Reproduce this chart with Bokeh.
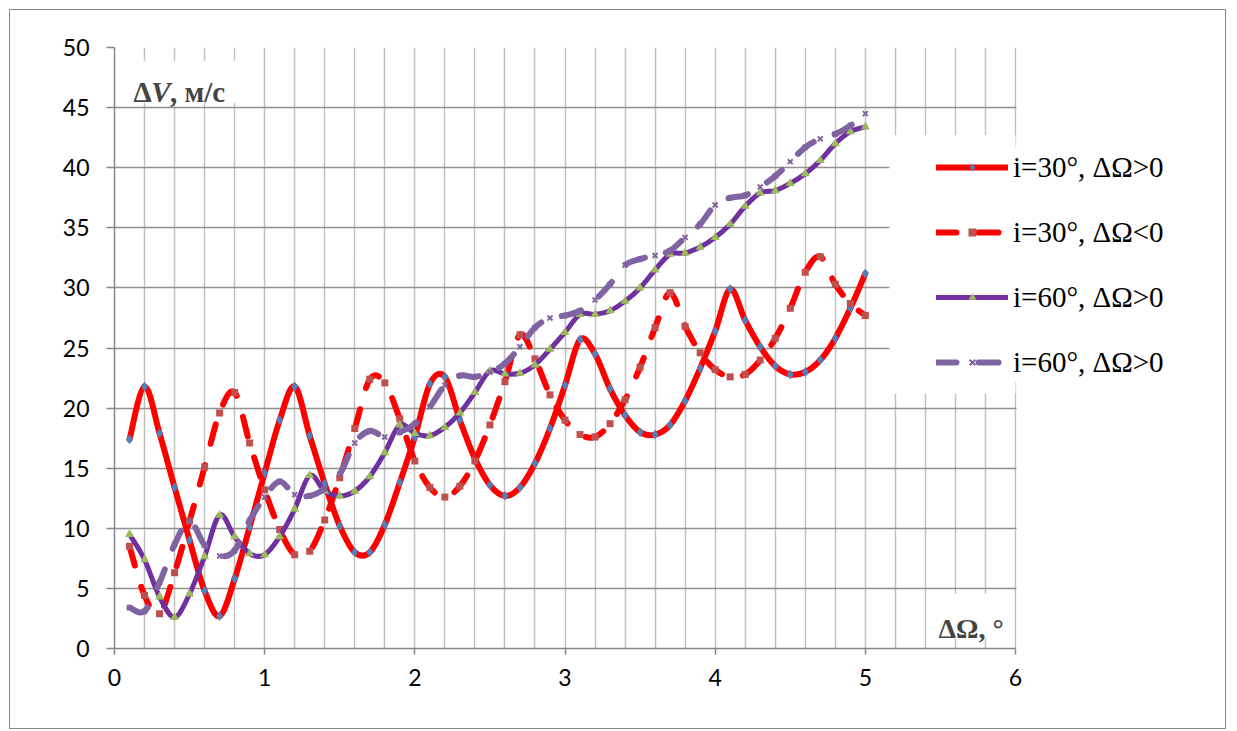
import numpy as np
from bokeh.plotting import figure
from bokeh.models import (ColumnDataSource, Legend, LegendItem, Label, BoxAnnotation,
                          SingleIntervalTicker, Range1d)
from bokeh.embed import file_html
from bokeh.resources import INLINE

# ---------------- data ----------------
d_omega = [0.1, 0.2, 0.3, 0.4, 0.5, 0.6, 0.7, 0.8, 0.9, 1.0,
           1.1, 1.2, 1.3, 1.4, 1.5, 1.6, 1.7, 1.8, 1.9, 2.0,
           2.1, 2.2, 2.3, 2.4, 2.5, 2.6, 2.7, 2.8, 2.9, 3.0,
           3.1, 3.2, 3.3, 3.4, 3.5, 3.6, 3.7, 3.8, 3.9, 4.0,
           4.1, 4.2, 4.3, 4.4, 4.5, 4.6, 4.7, 4.8, 4.9, 5.0]

dv_i30_pos = [17.4, 21.8, 17.9, 13.4, 9.0, 4.8, 2.7, 5.8, 10.1, 14.6,
              19.0, 21.8, 17.7, 13.7, 10.2, 8.0, 8.0, 10.3, 13.8, 17.6,
              22.0, 22.6, 19.0, 15.8, 13.6, 12.7, 13.4, 15.4, 18.3, 21.9,
              25.7, 24.5, 21.6, 19.4, 18.0, 17.8, 18.6, 20.6, 23.3, 26.4,
              29.9, 27.3, 25.1, 23.5, 22.8, 23.0, 24.0, 25.8, 28.3, 31.2]

dv_i30_neg = [8.5, 4.4, 2.9, 6.3, 10.6, 15.1, 19.6, 21.3, 17.1, 13.2,
              9.9, 7.8, 8.1, 10.7, 14.2, 18.3, 22.4, 22.1, 19.1, 15.6,
              13.4, 12.6, 13.5, 15.6, 18.6, 22.2, 26.1, 24.1, 21.1, 19.0,
              17.8, 17.6, 18.7, 20.7, 23.4, 26.7, 29.6, 26.8, 24.6, 23.2,
              22.6, 22.8, 24.0, 25.8, 28.3, 31.3, 32.6, 30.3, 28.7, 27.7]

dv_i60_pos = [9.5, 7.4, 4.3, 2.6, 4.55, 7.65, 11.1, 9.3, 7.9, 7.8,
              9.3, 11.6, 14.4, 13.1, 12.7, 13.1, 14.3, 16.3, 18.6, 17.9,
              17.7, 18.4, 19.6, 21.3, 23.1, 22.85, 22.9, 23.6, 24.9, 26.3,
              27.8, 27.8, 28.1, 28.9, 30.0, 31.5, 32.8, 32.9, 33.4, 34.2,
              35.3, 36.8, 37.9, 38.1, 38.7, 39.5, 40.6, 42.0, 43.0, 43.4]

dv_i60_b = [3.4, 3.1, 5.5, 8.65, 10.6, 8.6, 7.7, 8.15, 10.65, 12.6,
            13.9, 12.8, 12.7, 13.3, 14.5, 17.1, 18.1, 17.6, 18.0, 18.7,
            20.1, 21.9, 22.7, 22.6, 23.0, 23.7, 25.1, 26.7, 27.5, 27.7,
            28.1, 29.0, 30.3, 31.9, 32.4, 32.7, 33.1, 34.2, 35.3, 36.9,
            37.5, 37.7, 38.4, 39.3, 40.5, 41.7, 42.4, 42.8, 43.5, 44.5]

series_labels = ["i=30°, ΔΩ>0", "i=30°, ΔΩ<0", "i=60°, ΔΩ>0", "i=60°, ΔΩ>0"]

# ---------------- figure ----------------
W, H = 1217, 720
ML, MR, MT, MB = 104, 0, 37, 82
X_PX = 901 / 6.0                 # pixels per unit of x (axis 0..6 spans 901 px)
X_END = (W - ML - MR) / X_PX     # frame continues to the right to hold the legend
Y_PX = (H - MT - MB) / 50.0

p = figure(width=W, height=H, output_backend="svg", toolbar_location=None,
           x_range=Range1d(0, X_END), y_range=Range1d(0, 50),
           min_border_left=ML, min_border_right=MR, min_border_top=MT, min_border_bottom=MB,
           background_fill_color="white", border_fill_color="white")
p.outline_line_color = None
p.styles = {"margin-left": "9px", "margin-top": "9px", "border": "1px solid #8a8a8a"}

AX = "#868686"
for ax in (p.xaxis[0], p.yaxis[0]):
    ax.axis_line_color = AX
    ax.axis_line_width = 1.5
    ax.major_tick_line_color = AX
    ax.major_tick_line_width = 1.5
    ax.minor_tick_line_color = None
    ax.major_tick_in = 0
    ax.major_label_text_font = "Lato"
    ax.major_label_text_font_size = "23px"
    ax.major_label_text_color = "#000000"

p.xaxis[0].ticker = SingleIntervalTicker(interval=1, num_minor_ticks=0)
p.xaxis[0].bounds = (0, 6)
p.yaxis[0].ticker = SingleIntervalTicker(interval=5, num_minor_ticks=0)
p.xaxis[0].major_tick_out = 6
p.yaxis[0].major_tick_out = 8
p.xaxis[0].major_label_standoff = 14
p.yaxis[0].major_label_standoff = 17

p.xgrid[0].ticker = SingleIntervalTicker(interval=0.2, num_minor_ticks=0)
p.xgrid[0].grid_line_color = "#c0c0c0"
p.xgrid[0].grid_line_width = 1.5
p.ygrid[0].ticker = SingleIntervalTicker(interval=5, num_minor_ticks=0)
p.ygrid[0].grid_line_color = "#909090"
p.ygrid[0].grid_line_width = 1.5

# white boxes: area right of x=6, behind the axis titles and behind the legend
p.add_layout(BoxAnnotation(left=6.007, fill_color="white", fill_alpha=1,
                           line_color=None, level="underlay"))
for (l, r, b, t) in [(0.005, 0.84, 45.4, 48.9), (5.44, 5.985, 0.83, 4.58), (5.16, 6.0, 21.2, 42.7)]:
    p.add_layout(BoxAnnotation(left=l, right=r, bottom=b, top=t, fill_color="white",
                               fill_alpha=1, line_color=None, level="underlay"))

# ---------------- smoothed curves ----------------
PERIOD = 42


def bezier_source(xs, ys, k=1.0):
    x = np.asarray(xs, float)
    y = np.asarray(ys, float)
    n = len(x)
    xp = np.concatenate([[x[0]], x, [x[-1]]])
    yp = np.concatenate([[y[0]], y, [y[-1]]])
    x0, y0, x1, y1 = x[:-1], y[:-1], x[1:], y[1:]
    px_, py_ = xp[0:n - 1], yp[0:n - 1]
    nx_, ny_ = xp[3:n + 2], yp[3:n + 2]
    cx0 = x0 + (x1 - px_) / 6.0 * k
    cy0 = y0 + (y1 - py_) / 6.0 * k
    cx1 = x1 - (nx_ - x0) / 6.0 * k
    cy1 = y1 - (ny_ - y0) / 6.0 * k
    seg = np.hypot((x1 - x0) * X_PX, (y1 - y0) * Y_PX)
    cum = np.concatenate([[0.0], np.cumsum(seg)[:-1]])
    off = (np.round(cum).astype(int) % PERIOD).tolist()
    return ColumnDataSource(dict(x0=x0, y0=y0, x1=x1, y1=y1, cx0=cx0, cy0=cy0,
                                 cx1=cx1, cy1=cy1, off=off))


styles = [
    dict(ys=dv_i30_pos, color="#FF0000", width=6, dash="solid",
         marker="diamond", msize=10, mcolor="#4F81BD"),
    dict(ys=dv_i30_neg, color="#FF0000", width=6, dash="20 22",
         marker="square", msize=7, mcolor="#C0504D"),
    dict(ys=dv_i60_pos, color="#7030A0", width=5, dash="solid",
         marker="triangle", msize=9, mcolor="#9BBB59"),
    dict(ys=dv_i60_b, color="#8064A2", width=6, dash="20 22",
         marker="x", msize=7, mcolor="#8064A2"),
]

items = []
for st, lab in zip(styles, series_labels):
    src = bezier_source(d_omega, st["ys"])
    kw = dict(line_color=st["color"], line_width=st["width"], line_cap="round")
    if st["dash"] != "solid":
        rl = p.bezier(x0="x0", y0="y0", x1="x1", y1="y1", cx0="cx0", cy0="cy0", cx1="cx1", cy1="cy1",
                      source=src, line_dash=st["dash"], line_dash_offset="off", **kw)
    else:
        rl = p.bezier(x0="x0", y0="y0", x1="x1", y1="y1", cx0="cx0", cy0="cy0", cx1="cx1", cy1="cy1",
                      source=src, **kw)
    if st["marker"] == "x":
        rm = p.scatter(d_omega, st["ys"], marker="x", size=st["msize"], line_color=st["mcolor"], line_width=2)
    else:
        rm = p.scatter(d_omega, st["ys"], marker=st["marker"], size=st["msize"],
                       fill_color=st["mcolor"], line_color=None)
    items.append(LegendItem(label=lab, renderers=[rl, rm], index=0))

legend = Legend(items=items, location=(822, 266), orientation="vertical",
                background_fill_color="white", background_fill_alpha=1.0,
                border_line_color=None, padding=10, margin=0, spacing=25,
                glyph_width=72, glyph_height=20, label_height=40, label_standoff=5,
                label_text_font="'Liberation Serif', 'Times New Roman', serif",
                label_text_font_size="29px",
                label_text_baseline="middle", label_text_color="#000000")
p.add_layout(legend)

# ---------------- axis titles ----------------
tf = "Liberation Serif"
p.add_layout(Label(x=0.127, y=46.28, text="Δ", text_font=tf, text_font_size="29px",
                   text_font_style="bold", text_baseline="alphabetic"))
p.add_layout(Label(x=0.245, y=46.28, text="V", text_font=tf, text_font_size="29px",
                   text_font_style="bold italic", text_baseline="alphabetic"))
p.add_layout(Label(x=0.37, y=46.28, text=", м/с", text_font=tf, text_font_size="29px",
                   text_font_style="bold", text_baseline="alphabetic"))
p.add_layout(Label(x=5.487, y=1.66, text="ΔΩ, °", text_font=tf, text_font_size="28px",
                   text_font_style="bold", text_baseline="alphabetic"))

open("out.html", "w").write(file_html(p, INLINE))
